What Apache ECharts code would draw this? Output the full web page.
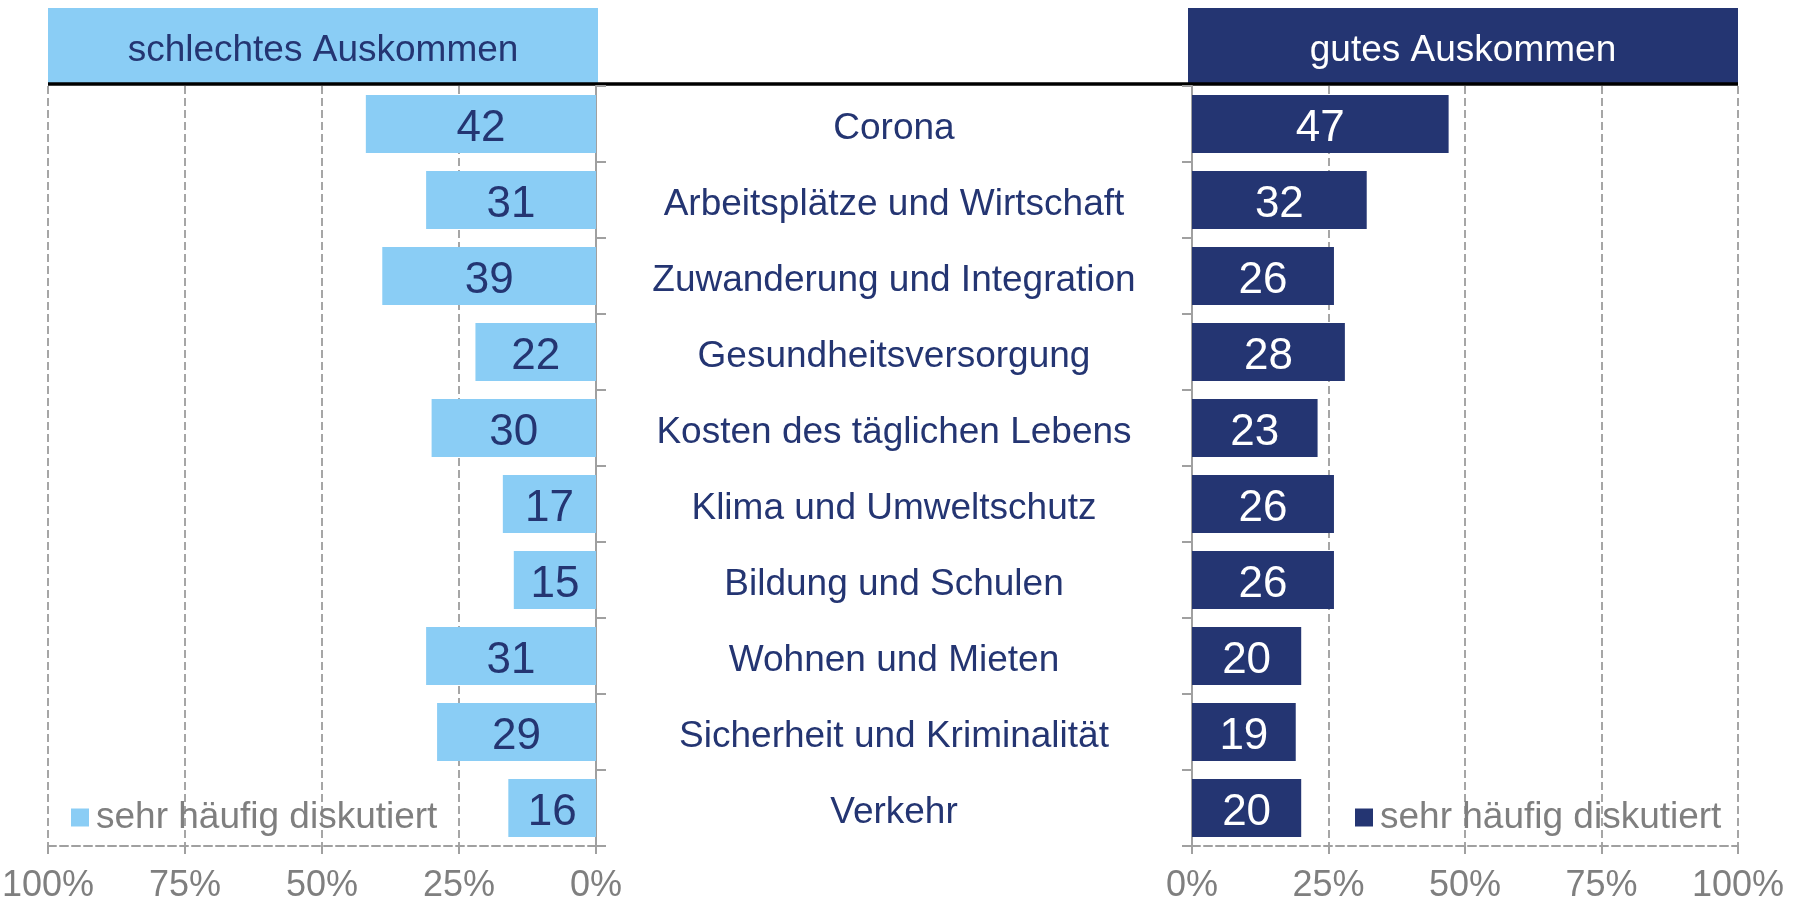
<!DOCTYPE html>
<html>
<head>
<meta charset="utf-8">
<script src="https://cdn.jsdelivr.net/npm/echarts@6/dist/echarts.min.js"></script>
<style>
  html, body { margin: 0; padding: 0; background: #fff; }
  #chart { width: 1797px; height: 898px; }
</style>
</head>
<body>
<div id="chart"></div>
<script>
// Daten
const categories = [
  "Corona",
  "Arbeitsplätze und Wirtschaft",
  "Zuwanderung und Integration",
  "Gesundheitsversorgung",
  "Kosten des täglichen Lebens",
  "Klima und Umweltschutz",
  "Bildung und Schulen",
  "Wohnen und Mieten",
  "Sicherheit und Kriminalität",
  "Verkehr"
];
const schlechtData = [42, 31, 39, 22, 30, 17, 15, 31, 29, 16];
const gutData = [47, 32, 26, 28, 23, 26, 26, 20, 19, 20];
const legendLabel = "sehr häufig diskutiert";
const headerLeft = "schlechtes Auskommen";
const headerRight = "gutes Auskommen";

const LIGHT = "#8acdf5";
const NAVY = "#243572";
const GRAY = "#7f7f7f";
const FONT = "Liberation Sans, Arial, sans-serif";

const chart = echarts.init(document.getElementById("chart"));

let valueAxis = function (gridIndex, inverse) {
  return {
    type: "value",
    gridIndex: gridIndex,
    min: 0,
    max: 100,
    interval: 25,
    inverse: inverse,
    axisLine: { show: true, lineStyle: { color: "#a0a0a0", width: 2, type: "dashed" } },
    axisTick: { show: true, length: 8, lineStyle: { color: "#a0a0a0", width: 2 } },
    splitLine: { show: true, lineStyle: { color: "#a6a6a6", width: 2, type: "dashed" } },
    axisLabel: {
      formatter: "{value}%",
      color: GRAY,
      fontSize: 36,
      fontFamily: FONT,
      margin: 22
    }
  };
};

let catAxis = function (gridIndex, position, showLabel) {
  return {
    type: "category",
    gridIndex: gridIndex,
    data: categories,
    inverse: true,
    position: position,
    axisLine: { show: true, lineStyle: { color: "#a0a0a0", width: 2 } },
    axisTick: { show: true, length: 10, lineStyle: { color: "#a0a0a0", width: 2 } },
    splitLine: { show: false },
    axisLabel: {
      show: showLabel,
      align: "center",
      margin: 298,
      formatter: (v) => "{c|" + v + "}",
      rich: {
        c: {
          color: NAVY,
          fontSize: 37,
          fontFamily: FONT,
          padding: [10, 0, 0, 0]
        }
      }
    }
  };
};

let legendFor = function (name, left) {
  return {
    data: [name],
    left: left,
    top: 794,
    itemWidth: 18,
    itemHeight: 18,
    itemGap: 0,
    icon: "rect",
    formatter: () => legendLabel,
    textStyle: { color: GRAY, fontSize: 37, fontFamily: FONT, padding: [4, 0, 0, 2] }
  };
};

let option = {
  animation: false,
  textStyle: { fontFamily: FONT },
  grid: [
    { left: 48, width: 548, top: 86, height: 760, containLabel: false, outerBoundsMode: "none" },
    { left: 1192, width: 546, top: 86, height: 760, containLabel: false, outerBoundsMode: "none" }
  ],
  xAxis: [valueAxis(0, true), valueAxis(1, false)],
  yAxis: [catAxis(0, "right", true), catAxis(1, "left", false)],
  legend: [legendFor("schlecht", 66), legendFor("gut", 1350)],
  series: [
    {
      name: "schlecht",
      type: "bar",
      xAxisIndex: 0,
      yAxisIndex: 0,
      barWidth: "76%",
      itemStyle: { color: LIGHT },
      label: {
        show: true,
        position: "inside",
        offset: [0, 5],
        color: NAVY,
        fontSize: 44,
        fontFamily: FONT
      },
      data: schlechtData
    },
    {
      name: "gut",
      type: "bar",
      xAxisIndex: 1,
      yAxisIndex: 1,
      barWidth: "76%",
      itemStyle: { color: NAVY },
      label: {
        show: true,
        position: "inside",
        offset: [0, 5],
        color: "#ffffff",
        fontSize: 44,
        fontFamily: FONT
      },
      data: gutData
    }
  ],
  graphic: [
    {
      type: "rect",
      shape: { x: 48, y: 8, width: 550, height: 75 },
      style: { fill: LIGHT }
    },
    {
      type: "text",
      style: {
        text: headerLeft, x: 323, y: 51,
        fill: NAVY, font: "37px " + FONT,
        textAlign: "center", textVerticalAlign: "middle"
      }
    },
    {
      type: "rect",
      shape: { x: 1188, y: 8, width: 550, height: 75 },
      style: { fill: NAVY }
    },
    {
      type: "text",
      style: {
        text: headerRight, x: 1463, y: 51,
        fill: "#ffffff", font: "37px " + FONT,
        textAlign: "center", textVerticalAlign: "middle"
      }
    },
    {
      type: "line",
      shape: { x1: 48, y1: 84, x2: 1738, y2: 84 },
      style: { stroke: "#000", lineWidth: 3.5 }
    }
  ]
};

chart.setOption(option);
</script>
</body>
</html>
